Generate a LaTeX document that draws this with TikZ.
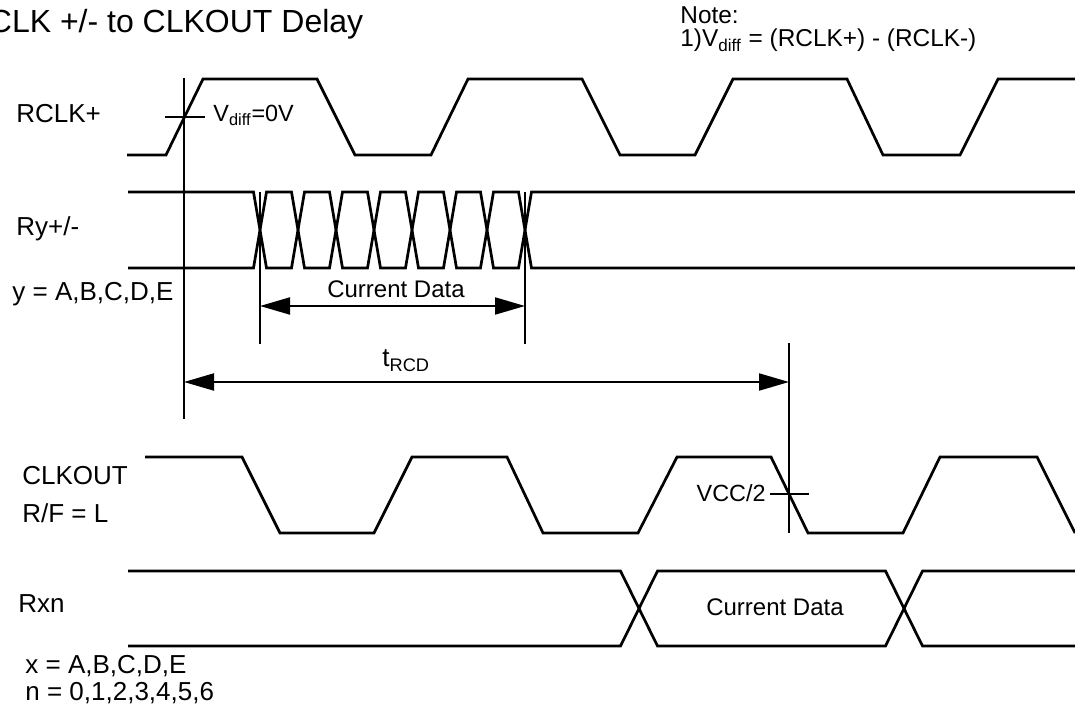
\documentclass[tikz,border=0pt]{standalone}
\usepackage{fontspec}
\setmainfont{Liberation Sans}
\usetikzlibrary{arrows.meta,positioning}

\tikzset{
    wave/.style={line width=1.35pt, line join=miter},
    refline/.style={line width=1pt},
    dimline/.style={line width=1pt,
        {Triangle[length=15pt,width=8.5pt]}-{Triangle[length=15pt,width=8.5pt]}},
    lbl/.style={font=\fontsize{13}{15}\selectfont, inner sep=0pt, anchor=base west},
    small/.style={font=\fontsize{11.7}{13}\selectfont, inner sep=0pt},
}

\begin{document}
\begin{tikzpicture}[x=0.5pt, y=-0.5pt]
    \useasboundingbox (0,0) rectangle (1075,710);

    % title and note
    \node[lbl, font=\fontsize{16}{19}\selectfont] (title) at (-11.5,33) {CLK +/- to CLKOUT Delay};
    \node[small, anchor=base west, font=\fontsize{12.2}{14}\selectfont] (note) at (680,24) {Note:};
    \node[small, anchor=base west, font=\fontsize{12.2}{14}\selectfont] (note1) at (680,47) {1)V\textsubscript{diff} = (RCLK+) - (RCLK-)};

    % signal names
    \node[lbl] (rclk) at (16,123) {RCLK+};
    \node[lbl] (ry) at (16,236) {Ry+/-};
    \node[lbl] (ylist) at (12,301) {y = A,B,C,D,E};
    \node[lbl] (clkout) at (22,485) {CLKOUT};
    \node[lbl] (rf) at (22,523) {R/F = L};
    \node[lbl] (rxn) at (18,612) {Rxn};
    \node[lbl] (xlist) at (25,673) {x = A,B,C,D,E};
    \node[lbl] (nlist) at (25,700) {n = 0,1,2,3,4,5,6};

    % RCLK+
    \draw[wave] (127,155) -- (166,155) -- (203,79) -- (317,79) -- (355,155)
        -- (431,155) -- (468,79) -- (582,79) -- (620,155)
        -- (695,155) -- (733,79) -- (847,79) -- (883,155)
        -- (960,155) -- (998,79) -- (1075,79);

    % Ry+/-
    \draw[wave] (128,192) -- (253.5,192) -- (260,230) -- (253.5,268) -- (128,268);
    \foreach \a/\b in {260/298, 298/336, 336/374, 374/412, 412/450, 450/487, 487/525}
        \draw[wave] (\a,230) -- (\a+6.5,192) -- (\b-6.5,192) -- (\b,230)
            -- (\b-6.5,268) -- (\a+6.5,268) -- cycle;
    \draw[wave] (1075,192) -- (531.5,192) -- (525,230) -- (531.5,268) -- (1075,268);

    % CLKOUT
    \draw[wave] (145,457) -- (242,457) -- (280,533) -- (374,533) -- (412,457)
        -- (507,457) -- (543,533) -- (638,533) -- (677,457)
        -- (771,457) -- (808,533) -- (903,533) -- (940,457)
        -- (1037,457) -- (1075,533);

    % Rxn
    \draw[wave] (128,571) -- (620.5,571) -- (639,608.5) -- (620.5,646) -- (128,646);
    \draw[wave] (639,608.5) -- (657.5,571) -- (885.5,571) -- (904,608.5)
        -- (885.5,646) -- (657.5,646) -- cycle;
    \draw[wave] (1075,571) -- (922.5,571) -- (904,608.5) -- (922.5,646) -- (1075,646);
    \node[lbl, anchor=center, font=\fontsize{12}{14}\selectfont] (rxndata) at (775,607) {Current Data};

    % Vdiff crossing
    \coordinate (vtop) at (184,78);
    \coordinate (vbot) at (184,419);
    \coordinate (vtl) at (165,117);
    \coordinate (vtr) at (205,117);
    \draw[refline] (vtop) -- (vbot);
    \draw[refline] (vtl) -- (vtr);
    \node[small, anchor=base west] (vdiff) at (213,122) {V\textsubscript{diff}=0V};

    % current data window
    \coordinate (cdtopl) at (260,192);
    \coordinate (cdbotl) at (260,344);
    \coordinate (cdtopr) at (525,192);
    \coordinate (cdbotr) at (525,344);
    \coordinate (cdl) at (260,306);
    \coordinate (cdr) at (525,306);
    \draw[refline] (cdtopl) -- (cdbotl);
    \draw[refline] (cdtopr) -- (cdbotr);
    \draw[dimline] (cdl) -- (cdr);
    \node[lbl, anchor=center, font=\fontsize{12}{14}\selectfont] (rydata) at (396,289) {Current Data};

    % tRCD
    \coordinate (ctop) at (789,343);
    \coordinate (cbot) at (789,533);
    \coordinate (tl) at (184,382);
    \coordinate (tr) at (789,382);
    \draw[refline] (ctop) -- (cbot);
    \draw[dimline] (tl) -- (tr);
    \node[lbl] (trcd) at (382,367) {t\textsubscript{RCD}};

    % VCC/2 crossing
    \coordinate (ctl) at (770,494);
    \coordinate (ctr) at (809,494);
    \draw[refline] (ctl) -- (ctr);
    \node[small, anchor=base east] (vcc) at (766,502) {VCC/2};
\end{tikzpicture}
\end{document}
